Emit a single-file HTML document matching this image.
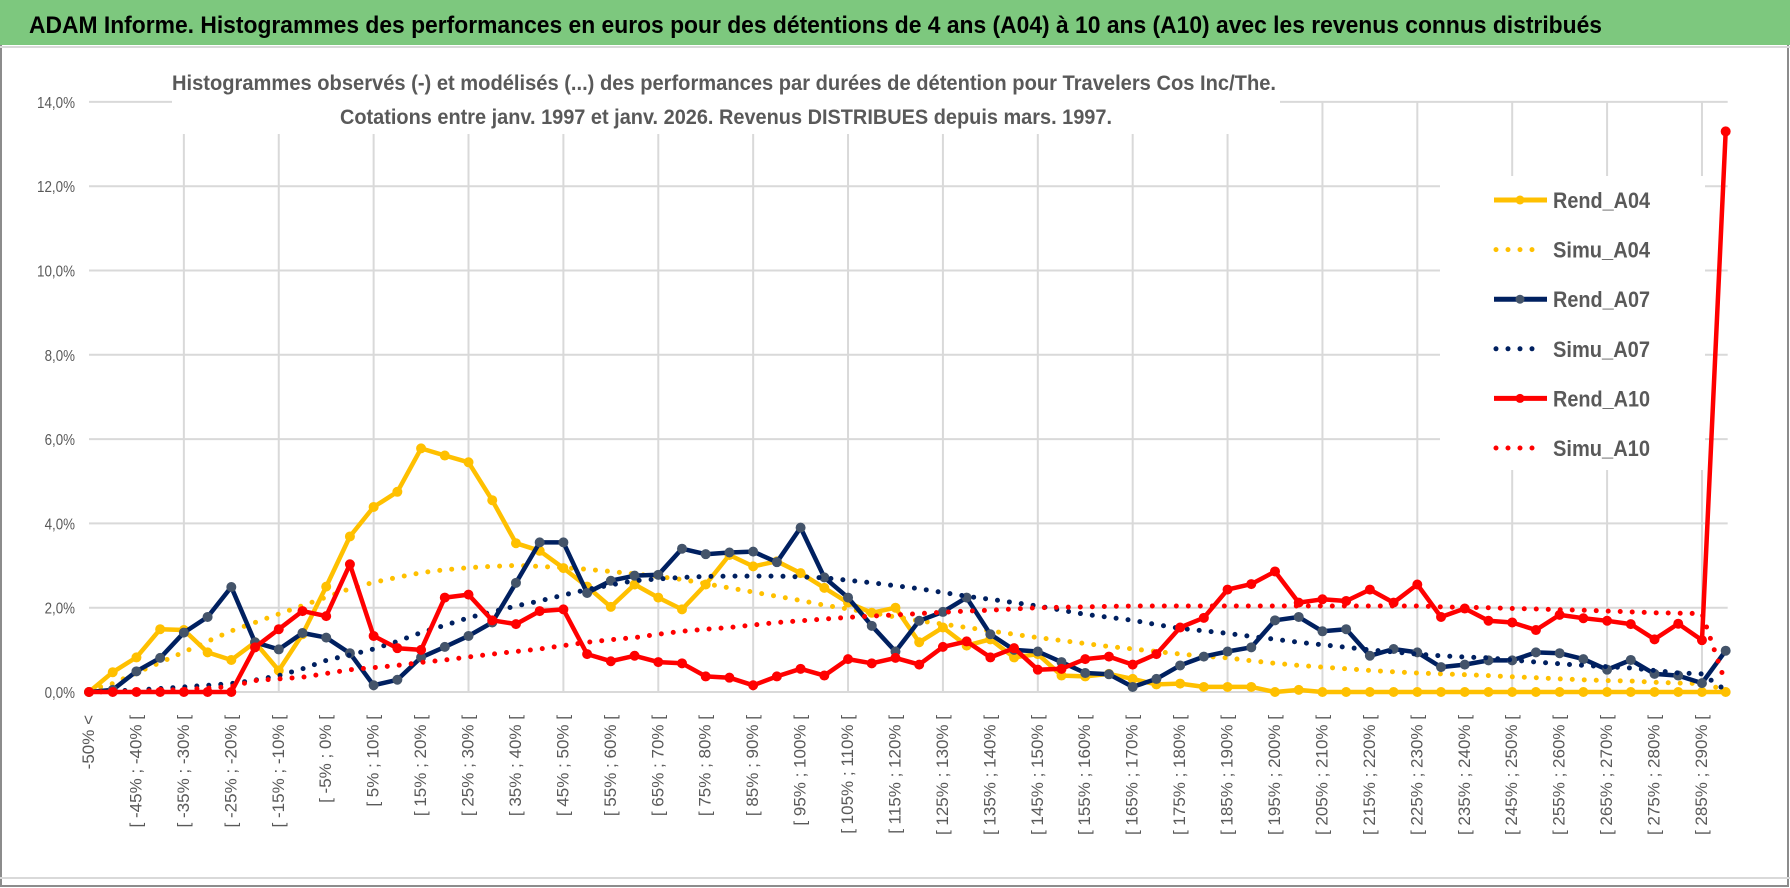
<!DOCTYPE html>
<html><head><meta charset="utf-8"><style>
body{margin:0;background:#fff;}
svg{display:block;font-family:"Liberation Sans",sans-serif;}
</style></head><body>
<svg id="chart" width="1790" height="888" viewBox="0 0 1790 888">
<rect x="0" y="0" width="1790" height="888" fill="#fff"/>
<rect x="1" y="1" width="1787" height="885" fill="none" stroke="#8c8c8c" stroke-width="2"/>
<rect x="0" y="0" width="1790" height="45" fill="#7DC87E"/>
<line x1="0" y1="47" x2="1790" y2="47" stroke="#d9d9d9" stroke-width="2"/>
<line x1="0" y1="878" x2="1790" y2="878" stroke="#d9d9d9" stroke-width="2"/>
<text x="29" y="33" font-size="24" font-weight="bold" fill="#000" textLength="1573" lengthAdjust="spacingAndGlyphs">ADAM Informe. Histogrammes des performances en euros pour des détentions de 4 ans (A04) à 10 ans (A10) avec les revenus connus distribués</text>
<g id="grid"></g>
<g id="series"></g>
<g id="xlabels"></g>
<g id="ylabels"></g>
<rect x="172" y="58" width="1108" height="76" fill="#fff"/>
<text x="172" y="90" font-size="21" font-weight="bold" fill="#595959" textLength="1104" lengthAdjust="spacingAndGlyphs">Histogrammes observés (-) et modélisés (...) des performances par durées de détention pour Travelers Cos Inc/The.</text>
<text x="340" y="124" font-size="21" font-weight="bold" fill="#595959" textLength="772" lengthAdjust="spacingAndGlyphs">Cotations entre janv. 1997 et janv. 2026. Revenus DISTRIBUES depuis mars. 1997.</text>
<g id="legend"></g>
</svg>
<script>
const categories = [];
categories.push('-50% <');
for (let k = 1; k <= 68; k++) { const a = -55 + 5 * k; categories.push('[ ' + a + '% ; ' + (a + 5) + '% ['); }
categories.push('> 290%');
const rendA04 = [0,0.47,0.82,1.49,1.47,0.94,0.76,1.18,0.51,1.37,2.5,3.69,4.39,4.75,5.78,5.61,5.45,4.55,3.53,3.35,2.94,2.5,2.02,2.55,2.24,1.96,2.55,3.25,2.98,3.1,2.82,2.47,2.12,1.88,2.0,1.18,1.53,1.1,1.25,0.82,0.9,0.39,0.37,0.43,0.31,0.18,0.2,0.12,0.12,0.12,0,0.05,0,0,0,0,0,0,0,0,0,0,0,0,0,0,0,0,0,0];
const simuA04 = [0.05,0.2,0.45,0.7,0.95,1.2,1.45,1.65,1.85,2.05,2.25,2.45,2.6,2.72,2.83,2.9,2.95,2.98,3.0,2.98,2.95,2.91,2.86,2.8,2.74,2.67,2.57,2.47,2.37,2.27,2.17,2.06,1.97,1.88,1.78,1.69,1.61,1.53,1.45,1.37,1.29,1.22,1.15,1.08,1.02,0.96,0.9,0.85,0.81,0.74,0.68,0.63,0.59,0.55,0.51,0.48,0.45,0.43,0.41,0.39,0.36,0.34,0.31,0.29,0.27,0.26,0.23,0.21,0.2,0.05];
const rendA07 = [0,0.05,0.49,0.81,1.41,1.78,2.49,1.18,1.01,1.4,1.29,0.92,0.16,0.29,0.82,1.07,1.33,1.65,2.59,3.55,3.55,2.35,2.64,2.76,2.78,3.4,3.27,3.31,3.33,3.08,3.9,2.72,2.24,1.57,0.96,1.69,1.9,2.24,1.37,1.0,0.96,0.71,0.45,0.42,0.12,0.31,0.63,0.84,0.96,1.06,1.7,1.78,1.44,1.49,0.86,1.02,0.94,0.59,0.65,0.75,0.75,0.94,0.92,0.78,0.53,0.76,0.43,0.39,0.21,0.98];
const simuA07 = [0,0.02,0.05,0.08,0.12,0.16,0.2,0.28,0.39,0.55,0.75,0.88,1.02,1.2,1.41,1.58,1.76,1.9,2.04,2.16,2.3,2.43,2.54,2.64,2.68,2.72,2.74,2.75,2.75,2.75,2.73,2.71,2.65,2.59,2.52,2.45,2.36,2.27,2.2,2.12,2.04,1.94,1.84,1.77,1.7,1.6,1.51,1.45,1.39,1.32,1.25,1.18,1.12,1.06,1.0,0.95,0.9,0.86,0.83,0.81,0.76,0.71,0.67,0.63,0.6,0.57,0.51,0.45,0.43,0.04];
const rendA10 = [0,0,0,0,0,0,0,1.06,1.49,1.92,1.8,3.03,1.33,1.04,1.0,2.24,2.31,1.7,1.61,1.92,1.96,0.9,0.73,0.86,0.71,0.68,0.37,0.34,0.16,0.37,0.55,0.39,0.78,0.68,0.81,0.65,1.07,1.2,0.82,1.04,0.53,0.55,0.78,0.84,0.65,0.9,1.53,1.76,2.43,2.56,2.86,2.12,2.2,2.16,2.43,2.12,2.55,1.78,1.98,1.69,1.65,1.47,1.83,1.75,1.69,1.61,1.25,1.62,1.23,13.3];
const simuA10 = [0,0.01,0.02,0.04,0.06,0.09,0.13,0.27,0.31,0.35,0.44,0.53,0.58,0.63,0.7,0.76,0.83,0.9,0.96,1.02,1.1,1.18,1.24,1.29,1.37,1.44,1.49,1.53,1.59,1.65,1.69,1.73,1.77,1.8,1.83,1.86,1.89,1.92,1.94,1.97,2.0,2.01,2.02,2.03,2.04,2.04,2.04,2.04,2.04,2.04,2.04,2.04,2.04,2.04,2.04,2.04,2.04,2.02,2.01,2.0,1.98,1.97,1.95,1.94,1.92,1.9,1.88,1.87,1.86,0.2];
const yTicks = [0,2,4,6,8,10,12,14];
const yTickLabels = ['0,0%','2,0%','4,0%','6,0%','8,0%','10,0%','12,0%','14,0%'];

const NS = 'http://www.w3.org/2000/svg';
const X0 = 89, XSTEP = 23.72, Y0 = 692, YPER = 42.15;
function xPos(i){ return X0 + XSTEP * i; }
function yPos(v){ return Y0 - v * YPER; }
function mk(tag, attrs, parent){ const e = document.createElementNS(NS, tag); for (const k in attrs) e.setAttribute(k, attrs[k]); parent.appendChild(e); return e; }

const grid = document.getElementById('grid');
yTicks.forEach((t, i) => {
  const l = mk('line', {x1: X0, x2: xPos(69) + 2, y1: yPos(t), y2: yPos(t), stroke: '#d9d9d9', 'stroke-width': 2}, grid);
  
  
});
for (let i = 4; i <= 68; i += 4) {
  const l = mk('line', {x1: xPos(i), x2: xPos(i), y1: yPos(14), y2: Y0, stroke: '#d9d9d9', 'stroke-width': 2}, grid);
  
  
}
const yl = document.getElementById('ylabels');
yTicks.forEach((t, i) => {
  const tx = mk('text', {x: 75, y: yPos(t) + 6, 'font-size': 16, fill: '#595959', 'text-anchor': 'end', textLength: yTickLabels[i].length * 7.6, lengthAdjust: 'spacingAndGlyphs'}, yl);
  tx.textContent = yTickLabels[i];
  
  
});
const xl = document.getElementById('xlabels');
categories.forEach((c, i) => {
  if (i % 2 !== 0) return;
  const x = xPos(i) + 5, y = 715;
  const tx = mk('text', {x: x, y: y, 'font-size': 17, fill: '#595959', 'text-anchor': 'end', transform: 'rotate(-90 ' + x + ' ' + y + ')'}, xl);
  tx.textContent = c;
  
  
});

const ser = document.getElementById('series');
function drawRend(vals, color, mfill, name){
  const g = mk('g', {}, ser);
  
  
  const pts = vals.map((v, i) => xPos(i).toFixed(1) + ',' + yPos(v).toFixed(1)).join(' ');
  mk('polyline', {points: pts, fill: 'none', stroke: color, 'stroke-width': 4.5, 'stroke-linejoin': 'round'}, g);
  vals.forEach((v, i) => {
    const c = mk('circle', {cx: xPos(i), cy: yPos(v), r: 4.5, fill: mfill, stroke: mfill}, g);
    
    
  });
}
function drawSimu(vals, color, name){
  const pts = vals.map((v, i) => xPos(i).toFixed(1) + ',' + yPos(v).toFixed(1)).join(' ');
  const p = mk('polyline', {points: pts, fill: 'none', stroke: color, 'stroke-width': 5, 'stroke-linecap': 'round', 'stroke-dasharray': '0 12'}, ser);
  
  
}
drawRend(rendA04, '#FFC000', '#FFC000', 'rend-a04-line');
drawSimu(simuA04, '#FFC000', 'simu-a04-line');
drawRend(rendA07, '#002060', '#44546A', 'rend-a07-line');
drawSimu(simuA07, '#002060', 'simu-a07-line');
drawRend(rendA10, '#FF0000', '#FF0000', 'rend-a10-line');
drawSimu(simuA10, '#FF0000', 'simu-a10-line');

const lg = document.getElementById('legend');
mk('rect', {x: 1440, y: 176, width: 265, height: 294, fill: '#fff'}, lg);
const legendItems = [
  ['Rend_A04', '#FFC000', '#FFC000', false],
  ['Simu_A04', '#FFC000', null, true],
  ['Rend_A07', '#002060', '#44546A', false],
  ['Simu_A07', '#002060', null, true],
  ['Rend_A10', '#FF0000', '#FF0000', false],
  ['Simu_A10', '#FF0000', null, true]
];
legendItems.forEach((it, i) => {
  const y = 200 + i * 49.6;
  const g = mk('g', {}, lg);
  
  
  if (it[3]) {
    mk('line', {x1: 1496, x2: 1540, y1: y, y2: y, stroke: it[1], 'stroke-width': 5, 'stroke-linecap': 'round', 'stroke-dasharray': '0 12'}, g);
  } else {
    mk('line', {x1: 1494, x2: 1547, y1: y, y2: y, stroke: it[1], 'stroke-width': 5}, g);
    mk('circle', {cx: 1520, cy: y, r: 4.5, fill: it[2]}, g);
  }
  const t = mk('text', {x: 1553, y: y + 8, 'font-size': 22, 'font-weight': 'bold', fill: '#595959', textLength: 97, lengthAdjust: 'spacingAndGlyphs'}, g);
  t.textContent = it[0];
});
</script>
</body></html>
